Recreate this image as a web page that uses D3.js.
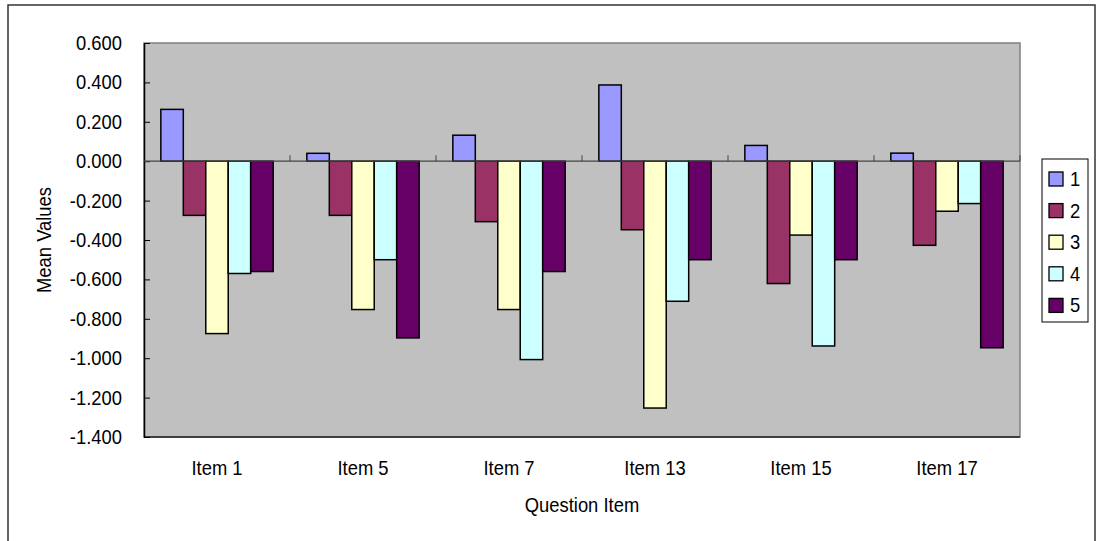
<!DOCTYPE html>
<html>
<head>
<meta charset="utf-8">
<script src="https://cdn.jsdelivr.net/npm/d3@7"></script>
<style>
  html, body { margin: 0; padding: 0; background: #fff; }
  svg { display: block; }
  text { font-family: "Liberation Sans", Arial, sans-serif; fill: #000; }
</style>
</head>
<body>
<svg id="chart" width="1096" height="541"></svg>
<script>
// Question items along the category axis
const categories = ["Item 1", "Item 5", "Item 7", "Item 13", "Item 15", "Item 17"];
// Response groups shown in the legend
const seriesNames = ["1", "2", "3", "4", "5"];
// Mean value per group, one entry per question item
const series1 = [0.263, 0.040, 0.132, 0.387, 0.080, 0.041];
const series2 = [-0.275, -0.275, -0.307, -0.348, -0.621, -0.427];
const series3 = [-0.875, -0.753, -0.753, -1.253, -0.375, -0.254];
const series4 = [-0.570, -0.500, -1.007, -0.711, -0.938, -0.215];
const series5 = [-0.560, -0.897, -0.560, -0.500, -0.500, -0.947];
const yTicks = [0.6, 0.4, 0.2, 0.0, -0.2, -0.4, -0.6, -0.8, -1.0, -1.2, -1.4];
const colors = ["#9999FF", "#993366", "#FFFFCC", "#CCFFFF", "#660066"];

const allSeries = [series1, series2, series3, series4, series5];
const rows = categories.map((c, i) => ({
  cat: c,
  values: seriesNames.map((s, j) => ({ key: s, value: allSeries[j][i], color: colors[j] }))
}));

const FONT = "20px";
const SQUEEZE = 0.92;
// narrow the glyphs horizontally around each text's anchor point
function condense(sel) {
  sel.each(function () {
    const t = d3.select(this);
    const x = +(t.attr("x") || 0);
    t.attr("transform", `translate(${x},0) scale(${SQUEEZE},1) translate(${-x},0)`);
  });
}

const svg = d3.select("#chart");
const plot = { left: 144, right: 1020, top: 43, bottom: 437 };

// outer chart frame
svg.append("rect")
  .attr("x", 8).attr("y", 5)
  .attr("width", 1087).attr("height", 545)
  .attr("fill", "#fff")
  .attr("stroke", "#333").attr("stroke-width", 1.5);

const x0 = d3.scaleBand().domain(categories).range([plot.left, plot.right]).padding(0);
const x1 = d3.scaleBand().domain(seriesNames).range([0, x0.bandwidth()])
  .paddingInner(0).paddingOuter(0.75);
const y = d3.scaleLinear().domain([-1.4, 0.6]).range([plot.bottom, plot.top]);

// plot area
svg.append("rect")
  .attr("x", plot.left).attr("y", plot.top)
  .attr("width", plot.right - plot.left).attr("height", plot.bottom - plot.top)
  .attr("fill", "#C0C0C0")
  .attr("stroke", "#808080").attr("stroke-width", 1.5);
svg.append("line")
  .attr("x1", plot.left).attr("x2", plot.right)
  .attr("y1", plot.bottom).attr("y2", plot.bottom)
  .attr("stroke", "#222").attr("stroke-width", 1.5);

// value axis
const fmt = v => d3.format(".3f")(v).replace("\u2212", "-");
const yAxis = svg.append("g")
  .attr("transform", `translate(${plot.left},0)`)
  .call(d3.axisLeft(y).tickValues(yTicks).tickFormat(fmt)
    .tickSizeInner(-6).tickSizeOuter(0).tickPadding(22));
yAxis.select(".domain").attr("stroke", "#000").attr("stroke-width", 1.5);
yAxis.selectAll(".tick line").attr("stroke", "#000").attr("stroke-width", 1);
yAxis.selectAll(".tick text")
  .style("font-family", "'Liberation Sans', Arial, sans-serif")
  .style("font-size", FONT).attr("fill", "#000")
  .call(condense);

// bars
const groups = svg.append("g").selectAll("g")
  .data(rows).join("g")
  .attr("transform", d => `translate(${x0(d.cat)},0)`);
groups.selectAll("rect")
  .data(d => d.values).join("rect")
  .attr("x", d => x1(d.key))
  .attr("width", x1.bandwidth())
  .attr("y", d => y(Math.max(0, d.value)))
  .attr("height", d => Math.abs(y(d.value) - y(0)))
  .attr("fill", d => d.color)
  .attr("stroke", "#000").attr("stroke-width", 1.5);

// category axis line at zero with boundary ticks
const catAxis = svg.append("g");
catAxis.append("line")
  .attr("x1", plot.left).attr("x2", plot.right)
  .attr("y1", y(0)).attr("y2", y(0))
  .attr("stroke", "#444").attr("stroke-width", 1.2);
const bounds = categories.map(c => x0(c)).concat([x0(categories[categories.length - 1]) + x0.bandwidth()]).slice(1);
catAxis.selectAll("line.tk").data(bounds).join("line")
  .attr("class", "tk")
  .attr("x1", d => d).attr("x2", d => d)
  .attr("y1", y(0)).attr("y2", y(0) - 6)
  .attr("stroke", "#444").attr("stroke-width", 1);

// keep bar outlines on top of the axis line
groups.raise();

// category labels
svg.append("g").selectAll("text")
  .data(categories).join("text")
  .attr("x", d => x0(d) + x0.bandwidth() / 2)
  .attr("y", 475)
  .attr("text-anchor", "middle")
  .style("font-size", FONT)
  .text(d => d)
  .call(condense);

// axis titles
svg.append("text")
  .attr("x", (plot.left + plot.right) / 2).attr("y", 512)
  .attr("text-anchor", "middle")
  .style("font-size", FONT)
  .text("Question Item")
  .call(condense);
svg.append("text")
  .attr("transform", `translate(51,${(plot.top + plot.bottom) / 2}) rotate(-90) scale(${SQUEEZE},1)`)
  .attr("text-anchor", "middle")
  .style("font-size", FONT)
  .text("Mean Values");

// legend
const legend = svg.append("g");
legend.append("rect")
  .attr("x", 1042).attr("y", 159).attr("width", 46).attr("height", 163)
  .attr("fill", "#fff").attr("stroke", "#000").attr("stroke-width", 1);
const li = legend.selectAll("g.item").data(seriesNames).join("g")
  .attr("class", "item")
  .attr("transform", (d, i) => `translate(1049,${179 + i * 31.6})`);
li.append("rect")
  .attr("x", 0).attr("y", -7).attr("width", 14).attr("height", 14)
  .attr("fill", (d, i) => colors[i])
  .attr("stroke", "#000").attr("stroke-width", 1.3);
li.append("text")
  .attr("x", 21).attr("y", 0).attr("dy", "0.35em")
  .style("font-size", FONT)
  .text(d => d)
  .call(condense);
</script>
</body>
</html>
